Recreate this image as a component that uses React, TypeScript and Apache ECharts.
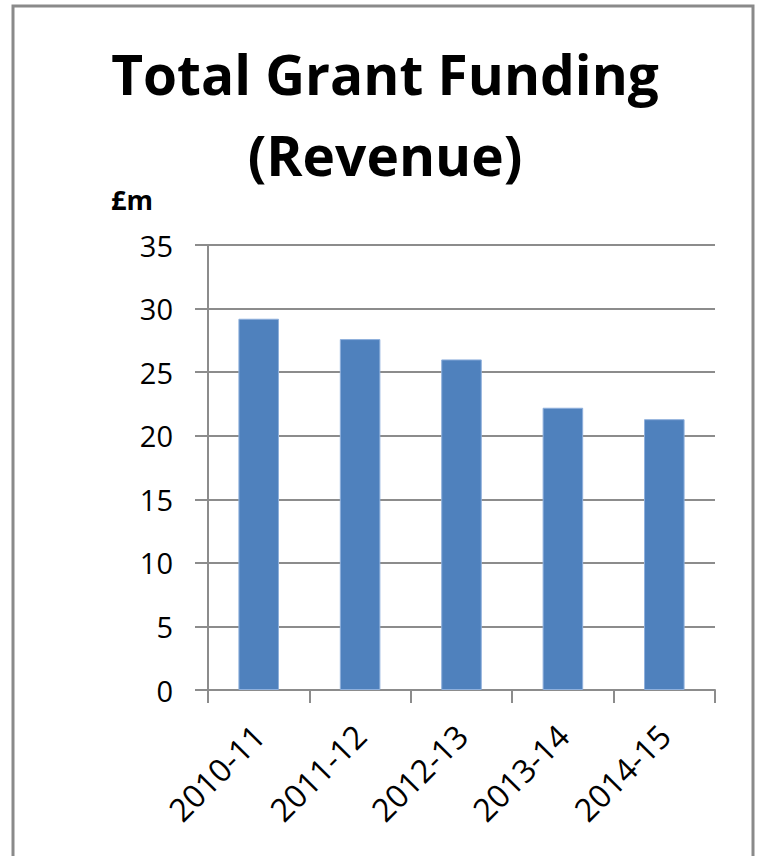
import React, { useEffect, useRef } from "react";
import * as echarts from "echarts";

const categories = ["2010-11", "2011-12", "2012-13", "2013-14", "2014-15"];
const values = [29.2, 27.6, 26.0, 22.2, 21.3];
const titleText = "Total Grant Funding\n(Revenue)";
const unitLabel = "£m";

export default function App() {
  const ref = useRef<HTMLDivElement>(null);
  useEffect(() => {
    document.body.style.margin = "0";
    const chart = echarts.init(ref.current!, null, { renderer: "svg" });
    const font = "'Open Sans', sans-serif";
    chart.setOption({
      animation: false,
      backgroundColor: "#ffffff",
      title: {
        text: titleText,
        left: 380,
        top: 28,
        textAlign: "center",
        textStyle: {
          fontFamily: font,
          fontWeight: "bold",
          fontSize: 55,
          lineHeight: 81,
          color: "#000000",
        },
      },
      graphic: [
        {
          type: "rect",
          shape: { x: 13, y: 6, width: 740, height: 900 },
          style: { fill: "none", stroke: "#8a8a8a", lineWidth: 3 },
          silent: true,
        },
        {
          type: "text",
          left: 111,
          top: 186,
          style: {
            text: unitLabel,
            fontFamily: font,
            fontWeight: "bold",
            fontSize: 27,
            fill: "#000000",
          },
        },
      ],
      grid: { left: 208, right: 42, top: 245, bottom: 166, containLabel: false },
      xAxis: {
        type: "category",
        data: categories,
        axisLine: { show: true, lineStyle: { color: "#8c8c8c", width: 2 } },
        axisTick: { show: true, length: 13, alignWithLabel: false, lineStyle: { color: "#8c8c8c", width: 2 } },
        axisLabel: {
          rotate: 45,
          margin: 40,
          fontFamily: font,
          fontSize: 32,
          color: "#000000",
          interval: 0,
        },
      },
      yAxis: {
        type: "value",
        min: 0,
        max: 35,
        interval: 5,
        axisLine: { show: true, lineStyle: { color: "#8c8c8c", width: 2 } },
        axisTick: { show: true, length: 13, lineStyle: { color: "#8c8c8c", width: 2 } },
        splitLine: { show: true, lineStyle: { color: "#8c8c8c", width: 2 } },
        axisLabel: {
          margin: 35,
          fontFamily: font,
          fontSize: 29,
          color: "#000000",
        },
      },
      series: [
        {
          type: "bar",
          data: values,
          barWidth: "40%",
          itemStyle: { color: "#4f81bd", borderColor: "#8fb0dc", borderWidth: 1 },
        },
      ],
    });
    return () => chart.dispose();
  }, []);
  return <div ref={ref} style={{ width: 757, height: 856 }} />;
}
